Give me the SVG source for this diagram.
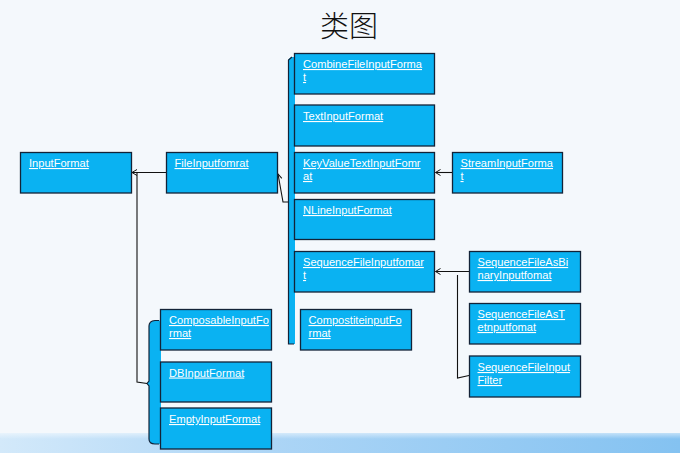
<svg xmlns="http://www.w3.org/2000/svg" width="685" height="453" viewBox="0 0 685 453">
<defs>
<style>
.box{fill:#0AB2F2;stroke:#132338;stroke-width:1.3}
.lbl{font-family:"Liberation Sans",Arial,sans-serif;font-size:11.1px;fill:#ffffff;text-decoration:underline}
.con{fill:none;stroke:#111111;stroke-width:1.1}
.brk{fill:#0AB2F2;stroke:none}
.brko{fill:none;stroke:#132338;stroke-width:1.2}
</style>
<marker id="arr" markerWidth="8" markerHeight="8" refX="6" refY="4" orient="auto" markerUnits="userSpaceOnUse">
<path d="M1,1 L6,4 L1,7" fill="none" stroke="#111" stroke-width="1"/>
</marker>
<linearGradient id="band" x1="0" y1="0" x2="1" y2="0">
<stop offset="0" stop-color="#d3e9fa"/>
<stop offset="0.4" stop-color="#acd5f6"/>
<stop offset="1" stop-color="#84c2f1"/>
</linearGradient>
<linearGradient id="bandv" x1="0" y1="0" x2="0" y2="1">
<stop offset="0" stop-color="#ffffff" stop-opacity="0.5"/>
<stop offset="0.3" stop-color="#ffffff" stop-opacity="0"/>
</linearGradient>
</defs>
<rect x="0" y="0" width="685" height="453" fill="#ffffff"/>
<rect x="0" y="0" width="680" height="453" fill="#F4F8FC"/>
<rect x="0" y="433" width="680" height="20" fill="url(#band)"/>
<rect x="0" y="433" width="680" height="20" fill="url(#bandv)"/>
<text x="320" y="37" font-family="'Noto Sans CJK SC',sans-serif" font-size="29" font-weight="300" fill="#111">类图</text>

<g id="brackets">
<path class="brk" d="M291,57 L295,57 L295,344 L288,344 L288,60 Z"/>
<path class="brko" d="M292,57 L288.5,60 L288.5,344 L294,344"/>
<path class="brk" d="M161,320.5 L161,444 L155,444 Q149,444 149,439 L149,386 L147,383.5 L149,381 L149,326 Q149,321 155,320.5 Z"/>
<path class="brko" d="M159,320.5 L155,320.5 Q149,321 149,326 L149,381 L147,383.5 L149,386 L149,439 Q149,444 155,444 L159,444"/>
</g>

<g id="connectors">
<line class="con" x1="166" y1="172.5" x2="132" y2="172.5" marker-end="url(#arr)"/>
<polyline class="con" points="137,172.5 137,382 147,383.5"/>
<polyline class="con" points="288,202 283,202 278,174" marker-end="url(#arr)"/>
<line class="con" x1="452" y1="172.5" x2="435.5" y2="172.5" marker-end="url(#arr)"/>
<line class="con" x1="469" y1="271.5" x2="435.5" y2="271.5" marker-end="url(#arr)"/>
<polyline class="con" points="457.5,275 457.5,378 469,375.5"/>
</g>

<g id="InputFormat"><rect class="box" x="20.5" y="152.5" width="111" height="40.5"/><text class="lbl" x="29" y="167">InputFormat</text></g>
<g id="FileInputfomrat"><rect class="box" x="166.5" y="152.5" width="111" height="40.5"/><text class="lbl" x="174.5" y="167">FileInputfomrat</text></g>

<g id="CombineFileInputFormat"><rect class="box" x="294.5" y="53.5" width="140" height="40.5"/><text class="lbl" x="303" y="68">CombineFileInputForma</text><text class="lbl" x="303" y="81">t</text></g>
<g id="TextInputFormat"><rect class="box" x="294.5" y="105" width="140" height="41"/><text class="lbl" x="303" y="120">TextInputFormat</text></g>
<g id="KeyValueTextInputFomrat"><rect class="box" x="294.5" y="152.5" width="140" height="40.5"/><text class="lbl" x="303" y="167">KeyValueTextInputFomr</text><text class="lbl" x="303" y="180">at</text></g>
<g id="NLineInputFormat"><rect class="box" x="294.5" y="199.5" width="140" height="40"/><text class="lbl" x="303" y="214">NLineInputFormat</text></g>
<g id="SequenceFileInputfomart"><rect class="box" x="294.5" y="251.5" width="140" height="40.5"/><text class="lbl" x="303" y="266">SequenceFileInputfomar</text><text class="lbl" x="303" y="279">t</text></g>
<g id="CompostiteinputFormat"><rect class="box" x="300.5" y="309.5" width="111" height="40.5"/><text class="lbl" x="308.5" y="324">CompostiteinputFo</text><text class="lbl" x="308.5" y="337">rmat</text></g>

<g id="StreamInputFormat"><rect class="box" x="452.5" y="152.5" width="110" height="40.5"/><text class="lbl" x="460.5" y="167">StreamInputForma</text><text class="lbl" x="460.5" y="180">t</text></g>

<g id="SequenceFileAsBinaryInputfomat"><rect class="box" x="469.5" y="251.5" width="111" height="40.5"/><text class="lbl" x="477.5" y="266">SequenceFileAsBi</text><text class="lbl" x="477.5" y="279">naryInputfomat</text></g>
<g id="SequenceFileAsTetnputfomat"><rect class="box" x="469.5" y="303.5" width="111" height="40.5"/><text class="lbl" x="477.5" y="318">SequenceFileAsT</text><text class="lbl" x="477.5" y="331">etnputfomat</text></g>
<g id="SequenceFileInputFilter"><rect class="box" x="469.5" y="356" width="111" height="41"/><text class="lbl" x="477.5" y="371">SequenceFileInput</text><text class="lbl" x="477.5" y="384">Filter</text></g>

<g id="ComposableInputFormat"><rect class="box" x="160.5" y="309.5" width="111" height="40.5"/><text class="lbl" x="169" y="324">ComposableInputFo</text><text class="lbl" x="169" y="337">rmat</text></g>
<g id="DBInputFormat"><rect class="box" x="160.5" y="362" width="111" height="40"/><text class="lbl" x="169" y="376.5">DBInputFormat</text></g>
<g id="EmptyInputFormat"><rect class="box" x="160.5" y="408" width="111" height="41"/><text class="lbl" x="169" y="423">EmptyInputFormat</text></g>
</svg>
